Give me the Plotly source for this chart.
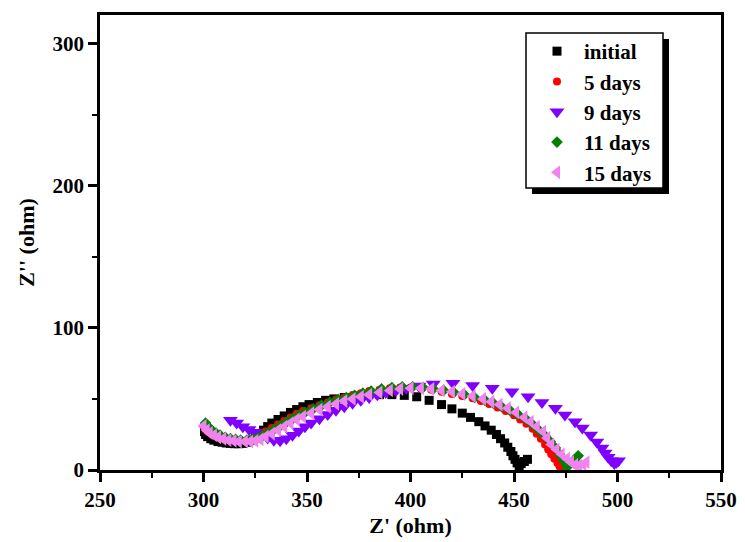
import plotly.graph_objects as go

# Nyquist impedance spectra: Z' (real) and Z'' (imaginary), in ohm
initial_x = [300.5, 301, 302, 303.5, 305, 307, 309, 311, 313, 315, 317, 319, 321, 323, 325,
             327, 329, 331, 333, 336, 339, 342, 345, 348, 351, 355, 359, 363, 368, 373, 379,
             385, 391, 397, 403, 409, 415, 420, 425, 429, 433, 436, 439, 441.5, 443.5, 445.5,
             447, 448.5, 449.5, 450.5, 451.5, 452.5, 453.5, 455, 456.5]
initial_y = [27, 25, 23.5, 22, 21, 20, 19.5, 19, 18.7, 18.5, 18.5, 18.7, 19.5, 21, 23,
             25.5, 28, 30.5, 33, 35.5, 38, 40.5, 42.5, 44.5, 46, 47.5, 49, 50, 51, 52, 52.5,
             53, 53, 52.5, 51.5, 49, 46, 43, 40, 37, 34, 31, 28, 25, 22, 19,
             16, 13, 10, 7.5, 5, 3, 4.5, 6, 7.5]

d5_x = [300, 301, 302.5, 304, 306, 308, 310, 312.5, 315, 317.5, 320, 322.5, 325, 327.5, 330,
        333, 336, 339, 342, 345, 348, 352, 356, 360, 364, 368, 372, 376, 380, 385, 390, 395,
        400, 405, 410, 415, 420, 425, 430, 434, 438, 442, 446, 450, 453, 456, 459, 461, 463,
        465, 466.5, 468, 469.5, 471, 472, 473]
d5_y = [31, 28.5, 26.5, 25, 23.5, 22.5, 21.5, 21, 20.5, 20.5, 20.5, 21, 22.5, 24.5, 27,
        29.5, 32, 34.5, 37, 39.5, 41.5, 43.5, 45.5, 47.5, 49.5, 51, 52.5, 54, 55.5, 56.5, 57.5, 58,
        58, 57.5, 56.5, 55, 53.5, 52, 50.5, 48.5, 46.5, 44, 41.5, 38.5, 35.5, 32.5, 29, 25.5, 22,
        18, 14.5, 11, 8, 5, 2.5, 1]

d9_x = [313, 316, 319, 322, 325, 328, 331, 334, 337, 340, 343, 346, 349, 352, 356, 360, 364,
        368, 372, 376, 380, 384, 388, 393, 398, 404, 411, 420.5, 430, 439.5, 449, 456.8, 463.5,
        470, 474.6, 479.5, 483, 487, 490, 492.5, 494, 495.5, 497, 498.5, 499.5, 500.5]
d9_y = [35, 33, 30.5, 28.5, 26.5, 24.5, 22.5, 21, 20.5, 22, 24.5, 27.5, 30.5, 33, 36, 39, 42,
        44.5, 47, 49, 51, 53, 54.5, 56, 57.5, 59, 60.5, 61, 59.5, 57.5, 55, 51.5, 47.5,
        43.5, 38.7, 34, 29.5, 24.6, 19.7, 15.5, 12, 9, 6.5, 4.5, 5.5, 6.5]

d11_x = [301, 302.5, 304, 306, 308, 310.5, 313, 315.5, 318, 321, 323.5, 326, 328.5, 331, 334,
         337, 340, 343, 346, 349, 353, 357, 361, 365, 369, 373, 377, 381, 386, 391, 396, 401,
         406, 411, 416, 421, 426, 431, 436, 440, 444, 448, 452, 456, 459, 462, 465, 467.5,
         470, 472, 474, 475.5, 477, 479, 481]
d11_y = [33, 30, 28, 26, 24.5, 23, 22, 21.5, 21, 21, 21.5, 22.5, 24, 26, 28.5,
         31, 33.5, 36, 38.5, 40.5, 43, 45.5, 47.5, 49.5, 51, 52.5, 54, 55.5, 57, 58, 58.5, 58.5,
         58, 57, 56, 54.5, 53, 51, 49, 47, 44.5, 42, 39, 35.5, 32, 28, 24, 20,
         15.5, 11, 6.5, 2.5, 4, 7, 10]

d15_x = [300, 301.5, 303, 305, 307, 309.5, 312, 314.5, 317, 320, 322.5, 325, 327.5, 330, 333,
         336, 339, 342, 345, 348, 352, 356, 360, 364, 368, 372, 376, 380, 385, 390, 395, 400,
         405, 410, 415, 420, 425, 430, 435, 439, 443, 447, 451, 455, 458, 461, 464, 466,
         468, 470.5, 473, 475.5, 477.5, 479.5, 481.5, 483.5, 485]
d15_y = [31, 28, 26, 24.5, 23, 22, 21, 20.5, 20, 20, 20, 20.5, 21.5, 23.5, 25.5,
         28, 30.5, 33, 35.5, 37.5, 40, 42.5, 44.5, 46.5, 48.5, 50, 51.5, 53, 54.5, 56, 57, 57.5,
         57.5, 57, 56, 55, 53.5, 52, 50, 48, 46, 43.5, 40.5, 37, 34, 30.5, 27, 22.5,
         18, 14.5, 11, 8, 5.5, 3.5, 3, 4, 5.5]

series = [
    ("initial", initial_x, initial_y, "square", 9, "#000000"),
    ("5 days", d5_x, d5_y, "circle", 8, "#FF0000"),
    ("9 days", d9_x, d9_y, "triangle-down", 13, "#7F00FF"),
    ("11 days", d11_x, d11_y, "diamond", 9, "#008000"),
    ("15 days", d15_x, d15_y, "triangle-left", 12, "#F282F0"),
]

FONT = "Liberation Serif, Times New Roman, serif"

# plot area in pixels, used to place the legend frame in paper units
L, R, T, B = 100, 721, 15, 470


def px_x(p):
    return (p - L) / (R - L)


def px_y(p):
    return 1 - (p - T) / (B - T)


fig = go.Figure()
for i, (name, xs, ys, sym, size, col) in enumerate(series):
    fig.add_trace(go.Scatter(
        x=xs, y=ys, mode="markers", name=name, legendgroup=f"g{i}",
        cliponaxis=False,
        marker=dict(symbol=sym, size=size, color=col, line=dict(width=0)),
    ))

axis_common = dict(
    showline=True, linewidth=2.5, linecolor="black", mirror=True,
    ticks="outside", ticklen=9, tickwidth=2.5, tickcolor="black",
    showgrid=False, zeroline=False, automargin=False,
    tickfont=dict(family=FONT, size=21, color="black", weight="bold"),
    minor=dict(ticks="outside", ticklen=5, tickwidth=2, tickcolor="black", showgrid=False),
)

fig.update_xaxes(
    range=[250, 550], dtick=50, tick0=250, minor_dtick=25,
    title=dict(text="<b>Z' (ohm)</b>", font=dict(family=FONT, size=22, color="black"), standoff=7),
    **axis_common,
)
fig.update_yaxes(
    range=[0, 320], dtick=100, tick0=0, minor_dtick=50,
    title=dict(text="<b>Z'' (ohm)</b>", font=dict(family=FONT, size=22, color="black"), standoff=12),
    **axis_common,
)

# legend frame with a drop shadow
fig.add_shape(type="rect", xref="paper", yref="paper",
              x0=px_x(532), x1=px_x(669), y0=px_y(194), y1=px_y(39),
              fillcolor="black", line=dict(width=0), layer="above")
fig.add_shape(type="rect", xref="paper", yref="paper",
              x0=px_x(526), x1=px_x(663), y0=px_y(188), y1=px_y(33),
              fillcolor="white", line=dict(color="black", width=1.5), layer="above")

fig.update_layout(
    width=745, height=542,
    margin=dict(l=L, r=745 - R, t=T, b=542 - B),
    plot_bgcolor="white", paper_bgcolor="white",
    legend=dict(
        x=px_x(530), y=px_y(31), xanchor="left", yanchor="top",
        bgcolor="rgba(0,0,0,0)", borderwidth=0, itemwidth=44,
        font=dict(family=FONT, size=21, color="black", weight="bold"),
        tracegroupgap=0, traceorder="grouped",
    ),
    showlegend=True,
)

fig.write_html("out.html")
